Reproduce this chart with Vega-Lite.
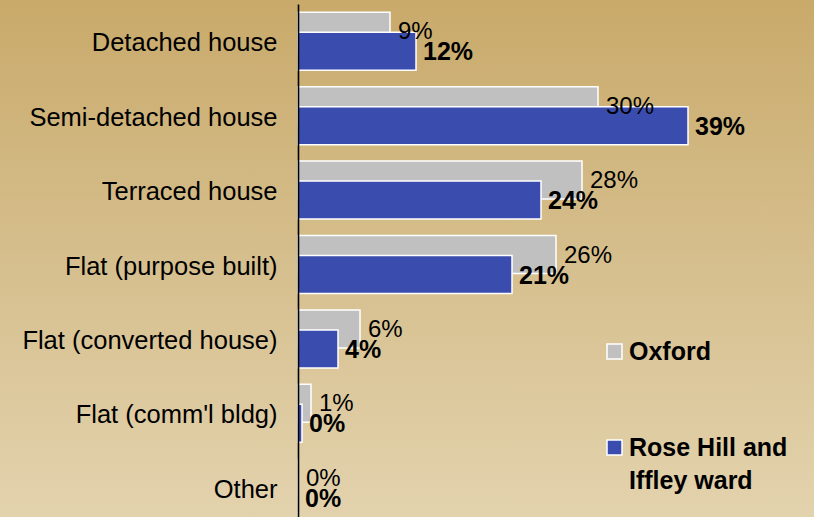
{
  "$schema": "https://vega.github.io/schema/vega-lite/v6.json",
  "autosize": "none",
  "width": 814,
  "height": 521,
  "padding": {"top": 4, "left": 0, "right": 0, "bottom": 0},
  "background": "#C9AA6B",
  "config": {
    "view": {
      "stroke": null,
      "fill": {"gradient": "linear", "x1": 0, "y1": 0, "x2": 0, "y2": 1,
        "stops": [{"offset": 0, "color": "#C9AA6B"}, {"offset": 0.5, "color": "#D6BF8E"}, {"offset": 1, "color": "#E3D3AE"}]}
    },
    "font": "Liberation Sans"
  },
  "data": {"values": [
    {"type": "Detached house", "series": "Oxford", "pct": 0.092},
    {"type": "Detached house", "series": "Rose Hill and Iffley ward", "pct": 0.118},
    {"type": "Semi-detached house", "series": "Oxford", "pct": 0.30},
    {"type": "Semi-detached house", "series": "Rose Hill and Iffley ward", "pct": 0.39},
    {"type": "Terraced house", "series": "Oxford", "pct": 0.284},
    {"type": "Terraced house", "series": "Rose Hill and Iffley ward", "pct": 0.243},
    {"type": "Flat (purpose built)", "series": "Oxford", "pct": 0.258},
    {"type": "Flat (purpose built)", "series": "Rose Hill and Iffley ward", "pct": 0.214},
    {"type": "Flat (converted house)", "series": "Oxford", "pct": 0.062},
    {"type": "Flat (converted house)", "series": "Rose Hill and Iffley ward", "pct": 0.04},
    {"type": "Flat (comm'l bldg)", "series": "Oxford", "pct": 0.013},
    {"type": "Flat (comm'l bldg)", "series": "Rose Hill and Iffley ward", "pct": 0.004},
    {"type": "Other", "series": "Oxford", "pct": 0.0},
    {"type": "Other", "series": "Rose Hill and Iffley ward", "pct": 0.0}
  ]},
  "encoding": {
    "y": {
      "field": "type", "type": "nominal", "sort": null,
      "scale": {"paddingInner": 0, "paddingOuter": 0},
      "axis": {
        "title": null, "offset": -298, "ticks": false, "grid": false, "zindex": 2,
        "domainColor": "#000000", "domainWidth": 1.6,
        "labelFont": "Liberation Sans", "labelFontSize": 25.5, "labelColor": "#000000",
        "labelPadding": 21, "labelLimit": 400, "labelOffset": 2
      }
    },
    "x": {
      "field": "pct", "type": "quantitative",
      "scale": {"domain": [-0.298, 0.516], "nice": false, "zero": false},
      "axis": null
    }
  },
  "layer": [
    {
      "transform": [{"filter": "datum.series == 'Oxford'"}],
      "mark": {"type": "bar", "height": 38, "yOffset": -10, "stroke": "#FFFFFF", "strokeWidth": 1.5},
      "encoding": {
        "color": {
          "field": "series", "type": "nominal",
          "scale": {"domain": ["Oxford", "Rose Hill and Iffley ward"], "range": ["#C0C0C0", "#3A4CAE"]},
          "legend": {
            "title": null, "orient": "none", "legendX": 602, "legendY": 335,
            "symbolType": "square", "symbolSize": 225, "symbolStrokeColor": "#FFFFFF", "symbolStrokeWidth": 1.5,
            "symbolOpacity": 1,
            "labelFont": "Liberation Sans", "labelFontSize": 25, "labelFontWeight": "bold", "labelColor": "#000000",
            "labelOffset": 2, "labelLimit": 300, "rowPadding": 70, "padding": 0,
            "labelExpr": "datum.label == 'Rose Hill and Iffley ward' ? ['Rose Hill and', 'Iffley ward'] : datum.label",
            "encode": {"labels": {"update": {"lineHeight": {"value": 33}}}}
          }
        }
      }
    },
    {
      "transform": [{"filter": "datum.series != 'Oxford'"}],
      "mark": {"type": "bar", "height": 38, "yOffset": 10, "stroke": "#FFFFFF", "strokeWidth": 1.5},
      "encoding": {
        "color": {"field": "series", "type": "nominal"}
      }
    },
    {
      "transform": [{"filter": "datum.series == 'Oxford'"}],
      "mark": {"type": "text", "align": "left", "baseline": "middle", "dx": 8, "yOffset": -9, "fontSize": 24, "font": "Liberation Sans", "color": "#000000"},
      "encoding": {"text": {"field": "pct", "type": "quantitative", "format": ".0%"}}
    },
    {
      "transform": [{"filter": "datum.series != 'Oxford'"}],
      "mark": {"type": "text", "align": "left", "baseline": "middle", "dx": 7, "yOffset": 11, "fontSize": 25, "fontWeight": "bold", "font": "Liberation Sans", "color": "#000000"},
      "encoding": {"text": {"field": "pct", "type": "quantitative", "format": ".0%"}}
    }
  ]
}
